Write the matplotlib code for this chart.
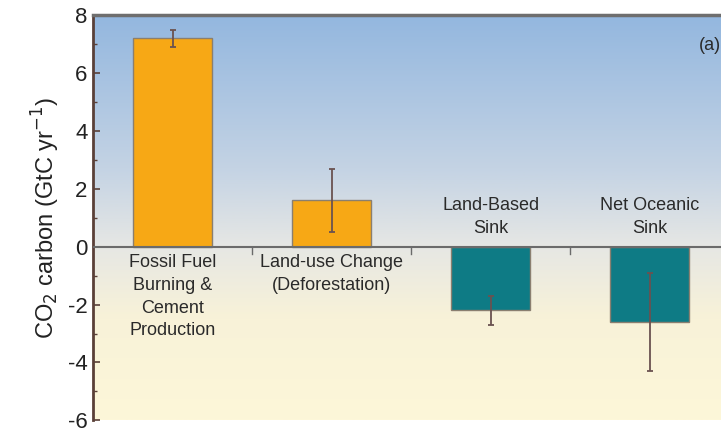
import numpy as np
import matplotlib
matplotlib.use("Agg")
import matplotlib.pyplot as plt
from matplotlib.colors import LinearSegmentedColormap

plt.rcParams['font.family'] = ['Liberation Sans', 'DejaVu Sans']

categories = ["Fossil Fuel\nBurning &\nCement\nProduction",
              "Land-use Change\n(Deforestation)",
              "Land-Based\nSink",
              "Net Oceanic\nSink"]
values = [7.2, 1.6, -2.2, -2.6]
errors = [0.3, 1.1, 0.5, 1.7]
bar_colors = ["#f7a815", "#f7a815", "#0e7b85", "#0e7b85"]
yticks = [-6, -4, -2, 0, 2, 4, 6, 8]

fig = plt.figure(figsize=(7.21, 4.32), dpi=100)
ax = fig.add_axes([0.129, 0.027, 0.9, 0.938])

# background gradient: blue sky above zero, pale cream below
ymin, ymax = -6, 8
bg = LinearSegmentedColormap.from_list(
    "bg",
    [(0.0, "#fdf7d9"), (0.25, "#f8f2d8"), (6 / 14, "#e6e7e4"),
     (0.62, "#c4d3e4"), (1.0, "#93b7df")])
grad = np.linspace(0, 1, 256).reshape(-1, 1)
ax.imshow(grad, cmap=bg, origin="lower", aspect="auto",
          extent=[-0.5, 3.6, ymin, ymax], zorder=0)

x = np.arange(len(values))
ax.bar(x, values, width=0.5, color=bar_colors, edgecolor="#8a7f70",
       linewidth=1.0, zorder=2)
ax.errorbar(x, values, yerr=errors, fmt="none", ecolor="#6a5250",
            elinewidth=1.3, capsize=2.5, capthick=1.3, zorder=3)

ax.axhline(0, color="#6b6b6b", linewidth=1.5, zorder=4)

# category labels: below zero for sources, above zero for sinks
for i, (lab, v) in enumerate(zip(categories, values)):
    if v > 0:
        ax.text(i, -0.25, lab, ha="center", va="top", fontsize=13,
                linespacing=1.45, color="#2a2a2a", zorder=5)
    else:
        ax.text(i, 0.35, lab, ha="center", va="bottom", fontsize=13,
                linespacing=1.45, color="#2a2a2a", zorder=5)

# small separators between categories on the zero line
for xm in [0.5, 1.5, 2.5]:
    ax.plot([xm, xm], [0, -0.25], color="#6b6b6b", linewidth=1.0, zorder=4)

ax.text(0.968, 0.945, "(a)", transform=ax.transAxes, ha="right", va="top",
        fontsize=13, color="#2a2a2a")

ax.set_xlim(-0.5, 3.58)
ax.set_ylim(ymin, ymax)
ax.set_xticks([])
ax.set_yticks(yticks)
ax.set_yticklabels([str(t) for t in yticks])
ax.set_yticks(np.arange(-6, 9, 1), minor=True)
ax.tick_params(axis="y", which="major", direction="in", length=5,
               width=1.2, color="#5a4038", labelsize=16, pad=4,
               labelcolor="#222222")
ax.tick_params(axis="y", which="minor", direction="in", length=3,
               width=1.0, color="#5a4038")

ax.set_ylabel("CO$_2$ carbon (GtC yr$^{-1}$)", fontsize=17,
              color="#222222", labelpad=4)

ax.spines["left"].set_color("#5a4038")
ax.spines["left"].set_linewidth(2)
ax.spines["top"].set_color("#6e6e6e")
ax.spines["top"].set_linewidth(2.5)
ax.spines["right"].set_visible(False)
ax.spines["bottom"].set_visible(False)

fig.savefig("out.png", dpi=100)
